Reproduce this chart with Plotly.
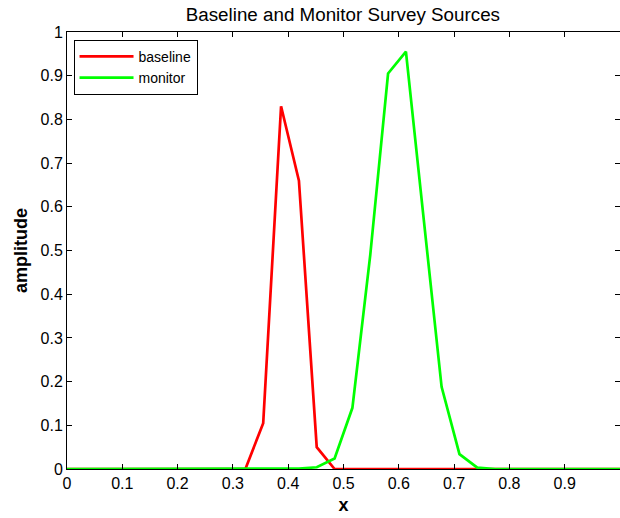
import plotly.graph_objects as go

x_vals = [0.0, 0.0323, 0.0645, 0.0968, 0.1290, 0.1613, 0.1935, 0.2258, 0.2581, 0.2903,
          0.3226, 0.3548, 0.3871, 0.4194, 0.4516, 0.4839, 0.5161, 0.5484, 0.5806, 0.6129,
          0.6452, 0.6774, 0.7097, 0.7419, 0.7742, 0.8065, 0.8387, 0.8710, 0.9032, 0.9355,
          0.9677, 1.0]
baseline = [0, 0, 0, 0, 0, 0, 0, 0, 0, 0,
            0, 0.105, 0.83, 0.66, 0.05, 0, 0, 0, 0, 0,
            0, 0, 0, 0, 0, 0, 0, 0, 0, 0,
            0, 0]
monitor = [0, 0, 0, 0, 0, 0, 0, 0, 0, 0,
           0, 0, 0, 0.001, 0.004, 0.024, 0.14, 0.49, 0.905, 0.955,
           0.57, 0.188, 0.034, 0.003, 0, 0, 0, 0, 0, 0,
           0, 0]
x_ticks = [0, 0.1, 0.2, 0.3, 0.4, 0.5, 0.6, 0.7, 0.8, 0.9, 1]
x_tick_labels = ["0", "0.1", "0.2", "0.3", "0.4", "0.5", "0.6", "0.7", "0.8", "0.9", "1"]
y_ticks = [0, 0.1, 0.2, 0.3, 0.4, 0.5, 0.6, 0.7, 0.8, 0.9, 1]
y_tick_labels = ["0", "0.1", "0.2", "0.3", "0.4", "0.5", "0.6", "0.7", "0.8", "0.9", "1"]

fig = go.Figure()
fig.add_trace(go.Scatter(x=x_vals, y=baseline, mode="lines", name="baseline",
                         line=dict(color="#ff0000", width=2.7), cliponaxis=False))
fig.add_trace(go.Scatter(x=x_vals, y=monitor, mode="lines", name="monitor",
                         line=dict(color="#00ff00", width=2.7), cliponaxis=False))

font = "Liberation Sans, Arial, Helvetica, sans-serif"
axis_common = dict(showgrid=False, zeroline=False, showline=True, linecolor="black",
                   linewidth=1, mirror="ticks", ticks="inside", ticklen=5,
                   tickcolor="black", tickwidth=1,
                   tickfont=dict(family=font, size=16, color="black"))

fig.update_layout(
    width=620, height=518,
    margin=dict(l=67, r=0, t=32, b=49),
    paper_bgcolor="white", plot_bgcolor="white",
    title=dict(text="Baseline and Monitor Survey Sources", x=0.553, xanchor="center",
               y=0.973, yanchor="middle",
               font=dict(family=font, size=18.8, color="black")),
    xaxis=dict(range=[0, 1], tickvals=x_ticks, ticktext=x_tick_labels,
               title=dict(text="<b>x</b>", font=dict(family=font, size=18, color="black"),
                          standoff=7),
               **axis_common),
    yaxis=dict(range=[0, 1], tickvals=y_ticks, ticktext=y_tick_labels,
               title=dict(text="<b>amplitude</b>", font=dict(family=font, size=18, color="black"),
                          standoff=8),
               **axis_common),
    legend=dict(x=0.0118, y=0.982, xanchor="left", yanchor="top",
                bgcolor="white", bordercolor="black", borderwidth=1,
                font=dict(family=font, size=14, color="black"),
                tracegroupgap=0, itemwidth=54),
    showlegend=True,
)

fig.write_html("out.html")
